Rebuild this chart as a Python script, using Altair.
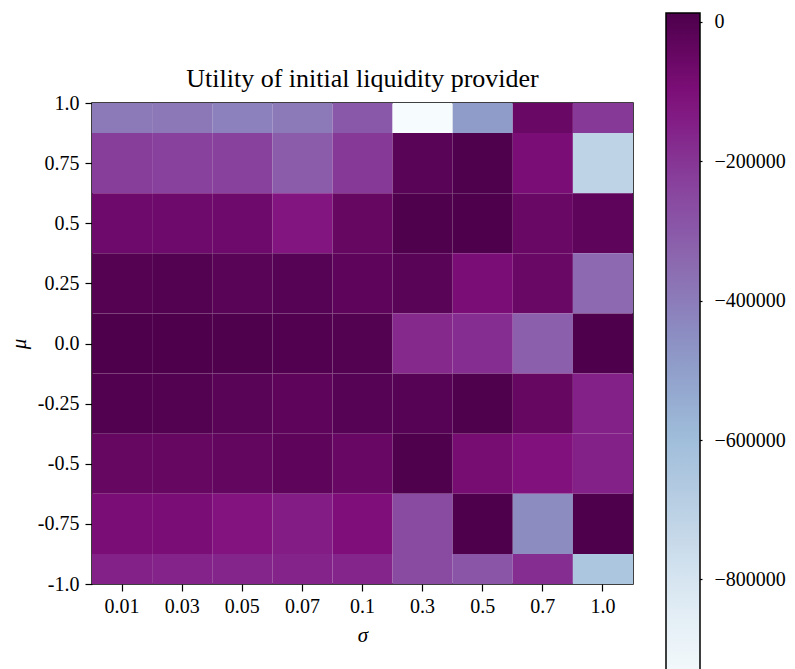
import altair as alt
import pandas as pd

sigma_labels = ["0.01", "0.03", "0.05", "0.07", "0.1", "0.3", "0.5", "0.7", "1.0"]
mu_values = [1.0, 0.75, 0.5, 0.25, 0.0, -0.25, -0.5, -0.75, -1.0]
mu_labels = ["1.0", "0.75", "0.5", "0.25", "0.0", "-0.25", "-0.5", "-0.75", "-1.0"]

# utility per mu row (columns follow sigma_labels)
u_mu_p100 = [-397000, -388000, -417000, -397000, -300000, -955000, -494000, -58000, -213000]
u_mu_p075 = [-223000, -233000, -233000, -310000, -213000, -20000, 5000, -97000, -718000]
u_mu_p050 = [-68000, -68000, -68000, -126000, -48000, 5000, 8000, -58000, -29000]
u_mu_p025 = [-10000, -5000, -19000, -14000, -29000, -20000, -97000, -58000, -349000]
u_mu_000 = [8000, 6000, 3000, -2000, -5000, -174000, -184000, -320000, 8000]
u_mu_m025 = [-2000, -5000, -19000, -29000, -14000, -14000, 4000, -48000, -155000]
u_mu_m050 = [-48000, -48000, -39000, -29000, -53000, 2000, -87000, -116000, -155000]
u_mu_m075 = [-97000, -97000, -121000, -145000, -106000, -262000, 8000, -446000, 8000]
u_mu_m100 = [-155000, -160000, -165000, -160000, -165000, -262000, -291000, -184000, -650000]

rows = [u_mu_p100, u_mu_p075, u_mu_p050, u_mu_p025, u_mu_000,
        u_mu_m025, u_mu_m050, u_mu_m075, u_mu_m100]

colorbar_ticks = [0, -200000, -400000, -600000, -800000]
vmin, vmax = -960000, 10000

bupu = ["#f7fcfd", "#e0ecf4", "#bfd3e6", "#9ebcda", "#8c96c6",
        "#8c6bb1", "#88419d", "#810f7c", "#4d004b"]
stops = [vmin + i * (vmax - vmin) / 8 for i in range(9)]

records = []
for mu, row in zip(mu_values, rows):
    for s, v in zip(sigma_labels, row):
        records.append({"sigma": s, "mu": mu, "utility": v})
df = pd.DataFrame(records)
ticks_df = pd.DataFrame({"v": colorbar_ticks})

half = 0.125
label_expr = " : ".join(
    f"abs(datum.value - ({v})) < 1e-9 ? '{l}'" for v, l in zip(mu_values, mu_labels)
) + " : datum.label"

FONT = "Liberation Serif"

# colorbar geometry (relative to plot area)
CB_X, CB_TOP, CB_LEN, CB_W = 574, -88, 676, 34

color_scale = alt.Scale(domain=stops, range=bupu, interpolate="rgb")

heat = (
    alt.Chart(df)
    .transform_calculate(y0=f"datum.mu - {half}", y1=f"datum.mu + {half}")
    .mark_rect(clip=True)
    .encode(
        x=alt.X(
            "sigma:N",
            sort=sigma_labels,
            scale=alt.Scale(paddingInner=0, paddingOuter=0),
            axis=alt.Axis(
                title="σ", labelAngle=0, domain=False, tickSize=7, tickWidth=1.2,
                tickColor="black", labelPadding=5, titlePadding=8,
                titleFontStyle="italic",
            ),
        ),
        y=alt.Y(
            "y0:Q",
            scale=alt.Scale(domain=[-1, 1], nice=False, zero=False),
            axis=alt.Axis(
                title="μ", values=mu_values, labelExpr=label_expr, domain=False,
                tickSize=7, tickWidth=1.2, tickColor="black", labelPadding=6,
                titlePadding=8, titleFontStyle="italic", grid=False,
            ),
        ),
        y2="y1:Q",
        color=alt.Color(
            "utility:Q",
            scale=color_scale,
            legend=alt.Legend(
                type="gradient", title=None, orient="none",
                legendX=CB_X, legendY=CB_TOP - 2,
                direction="vertical", gradientLength=CB_LEN, gradientThickness=CB_W,
                gradientStrokeColor="black", gradientStrokeWidth=1.5,
                values=colorbar_ticks, labelOpacity=0, labelFontSize=1,
                padding=0,
            ),
        ),
    )
)

cbar_axis = (
    alt.Chart(ticks_df)
    .mark_rule(opacity=0)
    .encode(
        y=alt.Y(
            "v:Q",
            scale=alt.Scale(domain=[vmin, vmax], range=[CB_TOP + CB_LEN, CB_TOP],
                            nice=False, zero=False),
            axis=alt.Axis(
                orient="right", offset=CB_X + CB_W - 541 - 4, title=None,
                values=colorbar_ticks, format="d", domain=False, grid=False,
                tickSize=6, tickWidth=1.2, tickColor="black", labelPadding=12,
                labelFont=FONT, labelFontSize=20, labelColor="black",
            ),
        ),
    )
)

chart = (
    alt.layer(heat, cbar_axis)
    .resolve_scale(y="independent")
    .properties(
        width=541, height=481,
        title=alt.TitleParams(
            "Utility of initial liquidity provider", font=FONT, fontSize=26,
            fontWeight="normal", color="black", offset=8, dy=88,
        ),
        padding={"left": 0, "top": 3, "right": 0, "bottom": 0},
    )
    .configure_view(stroke="black", strokeWidth=1.5)
    .configure_axis(
        labelFont=FONT, labelFontSize=20, labelColor="black",
        titleFont=FONT, titleFontSize=21, titleFontWeight="normal", titleColor="black",
        grid=False,
    )
)

chart.save("out.html", embed_options={"renderer": "svg", "actions": False})
